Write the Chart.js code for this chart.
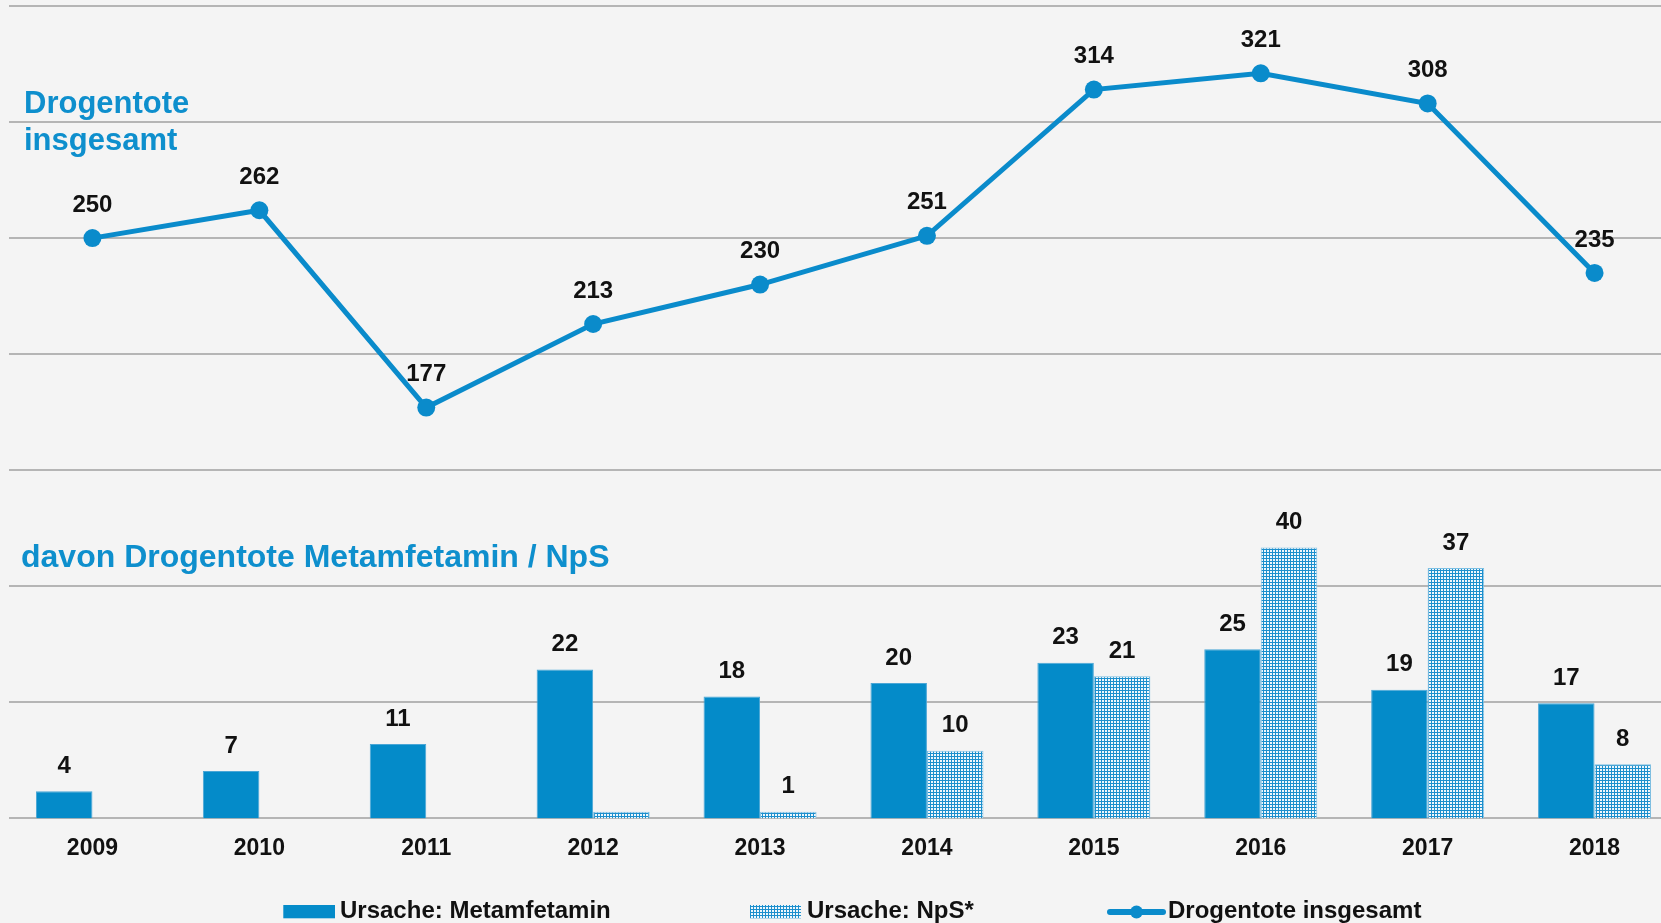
<!DOCTYPE html>
<html>
<head>
<meta charset="utf-8">
<script src="https://cdn.jsdelivr.net/npm/chart.js@4/dist/chart.umd.min.js"></script>
<style>
  html, body { margin: 0; padding: 0; background: #f4f4f4; overflow: hidden; }
  #wrap { position: relative; width: 1680px; height: 923px; }
  canvas { display: block; }
</style>
</head>
<body>
<div id="wrap"><canvas id="c" width="1680" height="923"></canvas></div>
<script>
// ---- data ----
const years = ['2009', '2010', '2011', '2012', '2013', '2014', '2015', '2016', '2017', '2018'];
const totalDeaths = [250, 262, 177, 213, 230, 251, 314, 321, 308, 235];
const methDeaths = [4, 7, 11, 22, 18, 20, 23, 25, 19, 17];
const npsDeaths = [null, null, null, 1, 1, 10, 21, 40, 37, 8];
const totalLabels = ['250', '262', '177', '213', '230', '251', '314', '321', '308', '235'];
const methLabels = ['4', '7', '11', '22', '18', '20', '23', '25', '19', '17'];
const npsLabels = ['', '', '', '', '1', '10', '21', '40', '37', '8'];
const seriesNames = ['Ursache: Metamfetamin', 'Ursache: NpS*', 'Drogentote insgesamt'];
const titleTopLines = ['Drogentote', 'insgesamt'];
const titleBottom = 'davon Drogentote Metamfetamin / NpS';

// ---- styles ----
const FONT = '"Liberation Sans", Arial, Helvetica, sans-serif';
const LINE_BLUE = '#0a8bcb';
const BAR_BLUE = '#048bc9';
const TITLE_BLUE = '#0e8fcd';
const BG = '#f4f4f4';

const canvas = document.getElementById('c');
const ctx = canvas.getContext('2d');

function makePattern() {
  const p = document.createElement('canvas');
  p.width = 3; p.height = 3;
  const g = p.getContext('2d');
  g.fillStyle = '#1c8fcd';
  g.fillRect(0, 0, 3, 3);
  g.fillStyle = '#eef7fc';
  g.fillRect(1, 1, 2, 2);
  return ctx.createPattern(p, 'repeat');
}
const npsPattern = makePattern();

const bgPlugin = {
  id: 'bg',
  beforeDraw(chart) {
    const c = chart.ctx;
    c.save();
    c.fillStyle = BG;
    c.fillRect(0, 0, chart.width, chart.height);
    c.restore();
  }
};

const valueLabelPlugin = {
  id: 'valueLabels',
  afterDatasetsDraw(chart) {
    const c = chart.ctx;
    c.save();
    c.font = 'bold 24px ' + FONT;
    c.fillStyle = '#111111';
    c.textAlign = 'center';
    c.textBaseline = 'middle';
    const sets = [[0, totalLabels, 33], [1, methLabels, 25], [2, npsLabels, 25]];
    for (const [di, labs, off] of sets) {
      const meta = chart.getDatasetMeta(di);
      meta.data.forEach((el, i) => {
        if (!labs[i]) return;
        const p = el.getProps(['x', 'y'], true);
        c.fillText(labs[i], p.x, p.y - off);
      });
    }
    c.restore();
  }
};

const titlePlugin = {
  id: 'titles',
  afterDraw(chart) {
    const c = chart.ctx;
    c.save();
    c.fillStyle = TITLE_BLUE;
    c.textAlign = 'left';
    c.textBaseline = 'alphabetic';
    c.font = 'bold 31px ' + FONT;
    c.fillText(titleTopLines[0], 24, 113);
    c.fillText(titleTopLines[1], 24, 150);
    c.font = 'bold 32px ' + FONT;
    c.fillText(titleBottom, 21, 567);
    c.restore();
  }
};

const legendPlugin = {
  id: 'customLegend',
  afterDraw(chart) {
    const c = chart.ctx;
    c.save();
    const baseY = 918.3;
    c.fillStyle = BAR_BLUE;
    c.fillRect(283.3, 905, 51.7, 13.3);
    c.fillStyle = npsPattern;
    c.fillRect(750, 905, 51, 13.3);
    c.strokeStyle = LINE_BLUE;
    c.lineWidth = 6;
    c.lineCap = 'round';
    c.beginPath();
    c.moveTo(1110, 912);
    c.lineTo(1163, 912);
    c.stroke();
    c.fillStyle = LINE_BLUE;
    c.beginPath();
    c.arc(1136.5, 912, 6.5, 0, Math.PI * 2);
    c.fill();
    c.fillStyle = '#111111';
    c.font = 'bold 24px ' + FONT;
    c.textAlign = 'left';
    c.textBaseline = 'alphabetic';
    c.fillText(seriesNames[0], 340, baseY);
    c.fillText(seriesNames[1], 807, baseY);
    c.fillText(seriesNames[2], 1168, baseY);
    c.restore();
  }
};

new Chart(ctx, {
  type: 'bar',
  data: {
    labels: years,
    datasets: [
      {
        type: 'line',
        label: seriesNames[2],
        data: totalDeaths,
        yAxisID: 'y',
        borderColor: LINE_BLUE,
        backgroundColor: LINE_BLUE,
        borderWidth: 5,
        pointRadius: 9,
        pointHoverRadius: 9,
        pointBorderWidth: 0,
        pointBackgroundColor: LINE_BLUE,
        tension: 0,
        fill: false,
        clip: false,
        order: 0
      },
      {
        label: seriesNames[0],
        data: methDeaths,
        yAxisID: 'y2',
        backgroundColor: BAR_BLUE,
        borderColor: '#4aa6d6',
        borderWidth: 1,
        categoryPercentage: 0.677,
        barPercentage: 1.0,
        order: 1
      },
      {
        label: seriesNames[1],
        data: npsDeaths,
        yAxisID: 'y2',
        backgroundColor: npsPattern,
        borderColor: '#7dbfe2',
        borderWidth: 1,
        categoryPercentage: 0.677,
        barPercentage: 1.0,
        order: 1
      }
    ]
  },
  options: {
    responsive: false,
    maintainAspectRatio: false,
    animation: false,
    events: [],
    layout: { autoPadding: false, padding: { left: 9, right: 2, top: 6, bottom: 44 } },
    plugins: {
      legend: { display: false },
      tooltip: { enabled: false },
      title: { display: false }
    },
    scales: {
      x: {
        offset: true,
        grid: { display: false, drawTicks: false },
        border: { display: false },
        ticks: {
          color: '#111111',
          font: { family: FONT, size: 23, weight: 'bold' },
          padding: 16.5,
          maxRotation: 0,
          autoSkip: false
        }
      },
      y: {
        position: 'left',
        min: 0,
        max: 350,
        ticks: { display: false, stepSize: 50 },
        grid: { color: '#b5b5b5', lineWidth: 2, drawTicks: false },
        border: { display: false }
      },
      y2: {
        display: false,
        min: 0,
        max: 120
      }
    }
  },
  plugins: [bgPlugin, valueLabelPlugin, titlePlugin, legendPlugin]
});
</script>
</body>
</html>
